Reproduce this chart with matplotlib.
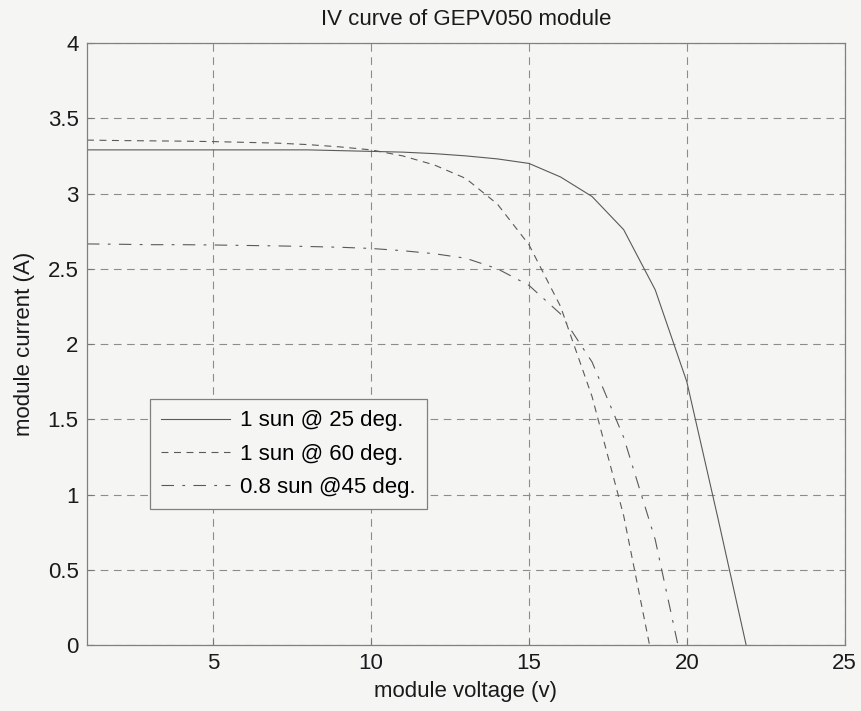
import matplotlib
matplotlib.use('Agg')
import matplotlib.pyplot as plt

plt.rcParams['font.family'] = ['Liberation Sans', 'DejaVu Sans']
plt.rcParams['lines.scale_dashes'] = False

# 1 sun @ 25 deg.
v_25 = [1, 2, 3, 4, 5, 6, 7, 8, 9, 10, 11, 12, 13, 14, 15, 16, 17, 18, 19, 20, 21, 21.88]
i_25 = [3.29, 3.29, 3.29, 3.29, 3.29, 3.29, 3.29, 3.29, 3.285, 3.28, 3.275, 3.265, 3.25,
        3.23, 3.20, 3.11, 2.98, 2.76, 2.36, 1.75, 0.83, 0.0]

# 1 sun @ 60 deg.
v_60 = [1, 2, 3, 4, 5, 6, 7, 8, 9, 10, 11, 12, 13, 14, 15, 16, 17, 18, 18.82]
i_60 = [3.355, 3.352, 3.35, 3.348, 3.345, 3.34, 3.335, 3.325, 3.31, 3.29, 3.25, 3.19,
        3.10, 2.93, 2.66, 2.25, 1.65, 0.86, 0.0]

# 0.8 sun @ 45 deg.
v_45 = [1, 2, 3, 4, 5, 6, 7, 8, 9, 10, 11, 12, 13, 14, 15, 16, 17, 18, 19, 19.72]
i_45 = [2.665, 2.663, 2.66, 2.66, 2.658, 2.655, 2.652, 2.648, 2.643, 2.635, 2.62, 2.60,
        2.57, 2.50, 2.39, 2.20, 1.88, 1.38, 0.70, 0.0]

labels = ['1 sun @ 25 deg.', '1 sun @ 60 deg.', '0.8 sun @45 deg.']
x_ticks = [5, 10, 15, 20, 25]
y_ticks = [0, 0.5, 1, 1.5, 2, 2.5, 3, 3.5, 4]

bg = '#f5f5f4'
line_col = '#5a5a5a'
grid_col = '#8c8c8c'
txt_col = '#1a1a1a'

fig = plt.figure(figsize=(8.61, 7.11), dpi=100, facecolor=bg)
ax = fig.add_axes([0.101, 0.0928, 0.880, 0.8467], facecolor=bg)

ax.plot(v_25, i_25, color=line_col, lw=0.8, linestyle='-', label=labels[0])
ax.plot(v_60, i_60, color=line_col, lw=0.8, linestyle=(0, (5, 4)), label=labels[1])
ax.plot(v_45, i_45, color=line_col, lw=0.8, linestyle=(0, (9, 6, 2, 6)), label=labels[2])

ax.set_xlim(1, 25)
ax.set_ylim(0, 4)
ax.set_xticks(x_ticks)
ax.set_yticks(y_ticks)
ax.set_yticklabels(['0', '0.5', '1', '1.5', '2', '2.5', '3', '3.5', '4'])
ax.grid(True, color=grid_col, lw=0.8, linestyle=(0, (5.5, 4)))
ax.tick_params(direction='in', length=4, color='#777777', labelsize=16, pad=6,
               labelcolor=txt_col)
for s in ax.spines.values():
    s.set_color('#808080')
    s.set_linewidth(0.9)

ax.set_title('IV curve of GEPV050 module', fontsize=16, color=txt_col, pad=13)
ax.set_xlabel('module voltage (v)', fontsize=16, color=txt_col, labelpad=5)
ax.set_ylabel('module current (A)', fontsize=16, color=txt_col, labelpad=9)

leg = ax.legend(loc='lower left', bbox_to_anchor=(0.083, 0.226), borderaxespad=0,
                fontsize=16, handlelength=3.1, handletextpad=0.45, labelspacing=0.55,
                borderpad=0.5, fancybox=False, framealpha=1, facecolor=bg,
                edgecolor='#808080')
leg.get_frame().set_linewidth(0.9)

fig.savefig('out.png', dpi=100, facecolor=bg)
